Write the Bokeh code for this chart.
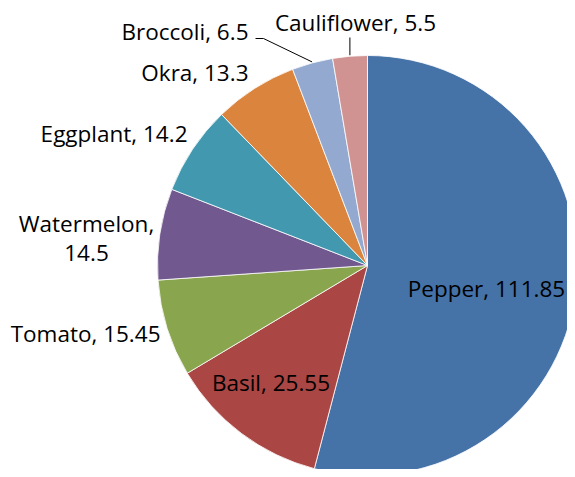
import numpy as np
from bokeh.plotting import figure
from bokeh.models import Range1d, ColumnDataSource
from bokeh.core.properties import value
from bokeh.embed import file_html
from bokeh.resources import INLINE

# ---- data ----
categories = ["Pepper", "Basil", "Tomato", "Watermelon", "Eggplant", "Okra", "Broccoli", "Cauliflower"]
values = [111.85, 25.55, 15.45, 14.5, 14.2, 13.3, 6.5, 5.5]
value_labels = ["111.85", "25.55", "15.45", "14.5", "14.2", "13.3", "6.5", "5.5"]
colors = ["#4572A7", "#AA4643", "#89A54E", "#71588F", "#4198AF", "#DB843D", "#93A9CF", "#D19392"]

# ---- layout (screen pixel coordinates of the picture) ----
W, HT = 567, 469
H = 477
CX, CY_SCREEN, R = 367, 265, 210
CY = H - CY_SCREEN
FONT = value("Open Sans")
FSIZE = "22.5px"

vals = np.array(values, dtype=float)
frac = vals / vals.sum()
cum_end = np.cumsum(frac) * 2 * np.pi
cum_start = cum_end - frac * 2 * np.pi
start_angle = np.pi / 2 - cum_end
end_angle = np.pi / 2 - cum_start
mid = (cum_start + cum_end) / 2  # clockwise from 12 o'clock

src = ColumnDataSource(dict(cat=categories, val=values, start=start_angle, end=end_angle, color=colors))

p = figure(width=W, height=HT, x_range=Range1d(0, W), y_range=Range1d(H - HT, H),
           output_backend="svg", toolbar_location=None, min_border=0,
           x_axis_type=None, y_axis_type=None)
p.grid.visible = False
p.outline_line_color = None
p.background_fill_color = "white"
p.border_fill_color = "white"

p.wedge(x=CX, y=CY, radius=R, start_angle="start", end_angle="end",
        fill_color="color", line_color="white", line_width=0.8, source=src)

def edge_point(i, r=R):
    a = mid[i]
    return CX + r * np.sin(a), CY + r * np.cos(a)

def lab(i, multiline=False):
    if multiline:
        return [categories[i] + ",", value_labels[i]]
    return categories[i] + ", " + value_labels[i]

# label anchors (screen coords -> data coords)
center_labels = [
    (0, 486, 288),
    (1, 270.5, 382),
    (7, 355, 22),
]
right_labels = [
    (2, 160, 333),
    (4, 187, 133),
    (5, 248, 72),
    (6, 248, 31),
]

p.text(x=[c[1] for c in center_labels], y=[H - c[2] for c in center_labels],
       text=[lab(c[0]) for c in center_labels], text_font=FONT, text_font_size=FSIZE,
       text_align="center", text_baseline="middle", text_color="#000000")
p.text(x=[c[1] for c in right_labels], y=[H - c[2] for c in right_labels],
       text=[lab(c[0]) for c in right_labels], text_font=FONT, text_font_size=FSIZE,
       text_align="right", text_baseline="middle", text_color="#000000")
wm = lab(3, multiline=True)
p.text(x=[86, 86], y=[H - 223, H - 252], text=wm, text_font=FONT, text_font_size=FSIZE,
       text_align="center", text_baseline="middle", text_color="#000000")

# leader lines
bx, by = edge_point(6, R + 1)
p.line(x=[255, 263, bx], y=[H - 38, H - 38, by], line_color="#000000", line_width=1)
cxp, cyp = edge_point(7, R + 1)
p.line(x=[cxp, cxp], y=[H - 37, cyp], line_color="#000000", line_width=1)

open("out.html", "w").write(file_html(p, INLINE))
